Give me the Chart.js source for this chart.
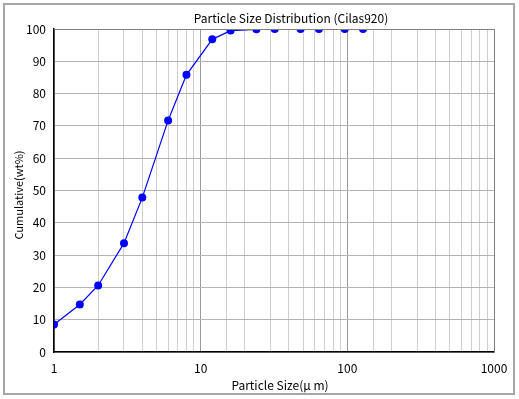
<!DOCTYPE html>
<html>
<head>
<meta charset="utf-8">
<script src="https://cdn.jsdelivr.net/npm/chart.js@4.4.0/dist/chart.umd.min.js"></script>
<style>
  html, body { margin: 0; padding: 0; background: #fff; }
  #wrap { width: 519px; height: 399px; }
</style>
</head>
<body>
<div id="wrap"><canvas id="psd" width="519" height="399"></canvas></div>
<script>
// Particle size (um) vs cumulative wt%
const sizes = [1, 1.5, 2, 3, 4, 6, 8, 12, 16, 24, 32, 48, 64, 96, 128];
const cumulative = [8.5, 14.7, 20.6, 33.7, 47.8, 71.7, 85.8, 96.8, 99.5, 99.9, 100, 100, 100, 100, 100];
const xDecades = [1, 10, 100, 1000];
const yTicks = [0, 10, 20, 30, 40, 50, 60, 70, 80, 90, 100];

const FONT = "'Noto Sans CJK JP', 'Liberation Sans', sans-serif";

const isDecade = v => xDecades.includes(Math.round(v * 1000) / 1000);

// frame, plot border top/right, title and axis titles
const framePlugin = {
  id: 'frame',
  beforeDraw(chart) {
    const c = chart.ctx;
    c.save();
    c.fillStyle = '#fff';
    c.fillRect(0, 0, chart.width, chart.height);
    c.strokeStyle = '#a6a6a6';
    c.lineWidth = 2;
    c.strokeRect(4, 4, 510, 390);
    c.restore();
  },
  afterDraw(chart) {
    const a = chart.chartArea;
    const c = chart.ctx;
    c.save();
    c.strokeStyle = '#808080';
    c.lineWidth = 1;
    c.beginPath();
    c.moveTo(a.left, a.top + 0.5);
    c.lineTo(a.right + 0.5, a.top + 0.5);
    c.lineTo(a.right + 0.5, a.bottom);
    c.stroke();
    c.fillStyle = '#000';
    c.textAlign = 'center';
    c.textBaseline = 'middle';
    c.font = '12px ' + FONT;
    c.fillText('Particle Size Distribution (Cilas920)', 291, 18);
    c.fillText('Particle Size(\u03bc m)', 280, 385);
    c.font = '11px ' + FONT;
    c.translate(19, 195);
    c.rotate(-Math.PI / 2);
    c.fillText('Cumulative(wt%)', 0, 0);
    c.restore();
  }
};

new Chart(document.getElementById('psd'), {
  type: 'line',
  data: {
    datasets: [{
      label: 'Cumulative',
      data: sizes.map((s, i) => ({ x: s, y: cumulative[i] })),
      borderColor: '#0000ff',
      backgroundColor: '#0000ff',
      borderWidth: 1.2,
      pointRadius: 4,
      pointBorderWidth: 0,
      tension: 0
    }]
  },
  options: {
    responsive: false,
    animation: false,
    layout: { padding: { left: 8, top: 29, right: 25, bottom: 8 } },
    plugins: {
      legend: { display: false },
      tooltip: { enabled: false },
      title: { display: false }
    },
    scales: {
      x: {
        type: 'logarithmic',
        min: 1,
        max: 1000,
        afterFit: s => { s.height = 39; },
        border: { color: '#000', width: 1.5 },
        grid: {
          color: ctx => isDecade(ctx.tick.value) ? '#9a9a9a' : '#cfcfcf',
          drawTicks: false
        },
        ticks: {
          autoSkip: false,
          maxRotation: 0,
          padding: 9,
          color: '#000',
          font: { family: FONT, size: 12 },
          callback: v => isDecade(v) ? String(v) : ''
        }
      },
      y: {
        min: 0,
        max: 100,
        afterFit: s => { s.width = 46; },
        afterBuildTicks: s => { s.ticks = yTicks.map(v => ({ value: v })); },
        border: { color: '#000', width: 1.5 },
        grid: { color: '#b4b4b4', drawTicks: false },
        ticks: {
          padding: 8,
          color: '#000',
          font: { family: FONT, size: 12 }
        }
      }
    }
  },
  plugins: [framePlugin]
});
</script>
</body>
</html>
